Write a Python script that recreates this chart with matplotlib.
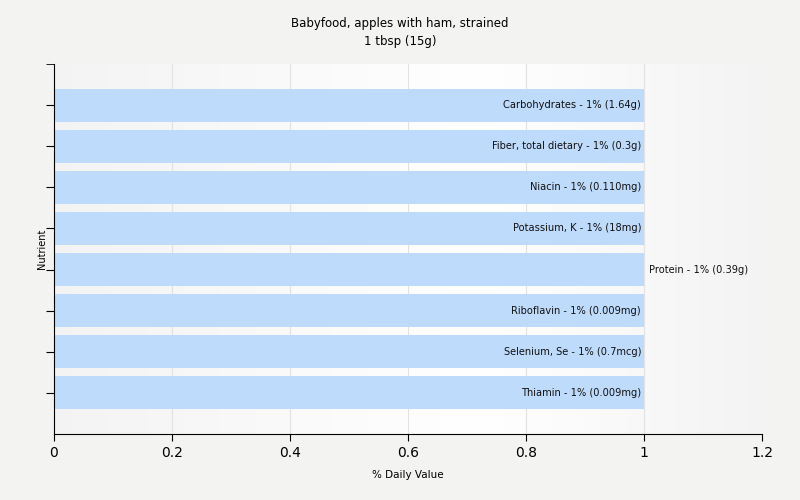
import matplotlib
matplotlib.use("Agg")
import matplotlib.pyplot as plt
import numpy as np

title = "Babyfood, apples with ham, strained\n1 tbsp (15g)"
nutrients = ["Carbohydrates", "Fiber, total dietary", "Niacin", "Potassium, K",
             "Protein", "Riboflavin", "Selenium, Se", "Thiamin"]
values = [1, 1, 1, 1, 1, 1, 1, 1]
amounts = ["1.64g", "0.3g", "0.110mg", "18mg", "0.39g", "0.009mg", "0.7mcg", "0.009mg"]
outside = ["Protein"]
xticks = [0, 0.2, 0.4, 0.6, 0.8, 1, 1.2]
xtick_labels = ["0", "0.2", "0.4", "0.6", "0.8", "1", "1.2"]

fig = plt.figure(figsize=(8, 5), dpi=100)
fig.patch.set_facecolor("#f3f3f2")
ax = fig.add_axes([54/800, 66/500, (762-54)/800, (434-64)/500])

# background gradient
xs = np.linspace(0, 1, 256)
shade = np.interp(xs, [0, 0.6, 1], [0.955, 1.0, 0.955])
img = np.stack([shade, shade, shade], axis=-1)[None, :, :].repeat(2, axis=0)
ax.imshow(img, extent=[0, 1, 0, 1], transform=ax.transAxes, aspect="auto", zorder=0)

n = len(nutrients)
ypos = [n - 1 - i for i in range(n)]
ax.barh(ypos, values, height=0.8, color="#bfdbfb", zorder=2)
for y, name, v, amt in zip(ypos, nutrients, values, amounts):
    txt = f"{name} - {v}% ({amt})"
    if name in outside:
        ax.text(v + 0.008, y, txt, ha="left", va="center", fontsize=7.1, color="#111111", zorder=3)
    else:
        ax.text(v - 0.005, y, txt, ha="right", va="center", fontsize=7.1, color="#111111", zorder=3)

ax.set_xlim(0, 1.2)
ax.set_ylim(-1, n)
ax.set_xticks(xticks)
ax.set_xticklabels(xtick_labels, fontsize=10)
ax.set_yticks(ypos)
ax.set_yticklabels([""] * n)
ax.set_yticks([n], minor=True)
ax.tick_params(axis="y", which="both", length=6)
ax.tick_params(axis="x", length=5)
ax.grid(axis="x", color="#e2e2e2", linewidth=0.8, zorder=1)
ax.set_axisbelow(True)
for s in ["top", "right"]:
    ax.spines[s].set_visible(False)
ax.set_xlabel("% Daily Value", fontsize=7.5, labelpad=7)
ax.set_ylabel("Nutrient", fontsize=7, labelpad=2)
ax.yaxis.set_label_coords(-0.01, 0.5)
fig.suptitle(title, fontsize=8.5, y=0.965, linespacing=1.45)

fig.savefig("out.png", dpi=100, facecolor=fig.get_facecolor())
